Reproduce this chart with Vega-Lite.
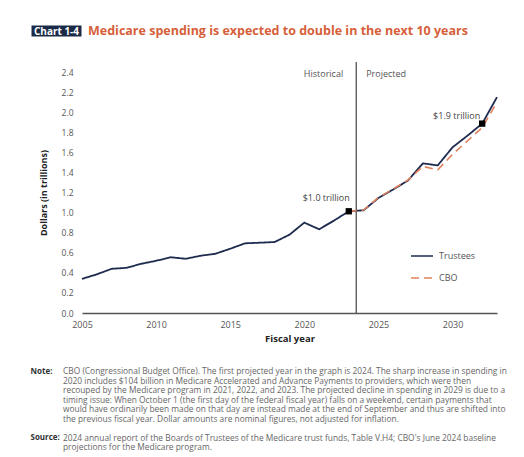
{
  "$schema": "https://vega.github.io/schema/vega-lite/v6.json",
  "background": "white",
  "padding": {"left": 30, "top": 24, "right": 0, "bottom": 0},
  "spacing": 24,
  "config": {"view": {"stroke": null}, "font": "Open Sans", "axis": {"labelOverlap": false, "labelFlush": false, "labelSeparation": 0}},
  "datasets": {
    "spending": [
      {"year": 2005, "value": 0.34, "series": "Trustees"},
      {"year": 2006, "value": 0.385, "series": "Trustees"},
      {"year": 2007, "value": 0.44, "series": "Trustees"},
      {"year": 2008, "value": 0.45, "series": "Trustees"},
      {"year": 2009, "value": 0.49, "series": "Trustees"},
      {"year": 2010, "value": 0.52, "series": "Trustees"},
      {"year": 2011, "value": 0.555, "series": "Trustees"},
      {"year": 2012, "value": 0.54, "series": "Trustees"},
      {"year": 2013, "value": 0.57, "series": "Trustees"},
      {"year": 2014, "value": 0.59, "series": "Trustees"},
      {"year": 2015, "value": 0.64, "series": "Trustees"},
      {"year": 2016, "value": 0.694, "series": "Trustees"},
      {"year": 2017, "value": 0.7, "series": "Trustees"},
      {"year": 2018, "value": 0.707, "series": "Trustees"},
      {"year": 2019, "value": 0.78, "series": "Trustees"},
      {"year": 2020, "value": 0.9, "series": "Trustees"},
      {"year": 2021, "value": 0.834, "series": "Trustees"},
      {"year": 2022, "value": 0.92, "series": "Trustees"},
      {"year": 2023, "value": 1.013, "series": "Trustees"},
      {"year": 2024, "value": 1.023, "series": "Trustees"},
      {"year": 2025, "value": 1.145, "series": "Trustees"},
      {"year": 2026, "value": 1.23, "series": "Trustees"},
      {"year": 2027, "value": 1.32, "series": "Trustees"},
      {"year": 2028, "value": 1.49, "series": "Trustees"},
      {"year": 2029, "value": 1.47, "series": "Trustees"},
      {"year": 2030, "value": 1.65, "series": "Trustees"},
      {"year": 2031, "value": 1.765, "series": "Trustees"},
      {"year": 2032, "value": 1.886, "series": "Trustees"},
      {"year": 2033, "value": 2.15, "series": "Trustees"},
      {"year": 2023, "value": 1.013, "series": "CBO"},
      {"year": 2024, "value": 1.025, "series": "CBO"},
      {"year": 2025, "value": 1.15, "series": "CBO"},
      {"year": 2026, "value": 1.235, "series": "CBO"},
      {"year": 2027, "value": 1.325, "series": "CBO"},
      {"year": 2028, "value": 1.46, "series": "CBO"},
      {"year": 2029, "value": 1.425, "series": "CBO"},
      {"year": 2030, "value": 1.58, "series": "CBO"},
      {"year": 2031, "value": 1.713, "series": "CBO"},
      {"year": 2032, "value": 1.846, "series": "CBO"},
      {"year": 2033, "value": 2.1, "series": "CBO"}
    ],
    "points": [
      {"year": 2023, "value": 1.013, "label": "$1.0 trillion"},
      {"year": 2032, "value": 1.886, "label": "$1.9 trillion"}
    ],
    "divider": [
      {"year": 2023.5, "lo": 0, "hi": 2.5}
    ],
    "notes": [
      {"line": 0, "text": "CBO (Congressional Budget Office). The first projected year in the graph is 2024. The sharp increase in spending in"},
      {"line": 1, "text": "2020 includes $104 billion in Medicare Accelerated and Advance Payments to providers, which were then"},
      {"line": 2, "text": "recouped by the Medicare program in 2021, 2022, and 2023. The projected decline in spending in 2029 is due to a"},
      {"line": 3, "text": "timing issue: When October 1 (the first day of the federal fiscal year) falls on a weekend, certain payments that"},
      {"line": 4, "text": "would have ordinarily been made on that day are instead made at the end of September and thus are shifted into"},
      {"line": 5, "text": "the previous fiscal year. Dollar amounts are nominal figures, not adjusted for inflation."},
      {"line": 7, "text": "2024 annual report of the Boards of Trustees of the Medicare trust funds, Table V.H4; CBO's June 2024 baseline"},
      {"line": 8, "text": "projections for the Medicare program."}
    ]
  },
  "vconcat": [
    {
      "width": 415,
      "height": 11,
      "data": {"values": [{"title": "Medicare spending is expected to double in the next 10 years"}]},
      "mark": {"type": "text", "color": "#d65f3a", "fontWeight": "bold", "fontSize": 12.5, "baseline": "middle", "align": "left", "dx": 6},
      "encoding": {
        "x": {"datum": 0, "type": "quantitative", "scale": {"domain": [0, 1]}, "axis": null},
        "y": {"datum": 0.5, "type": "quantitative", "scale": {"domain": [0, 1]},
          "axis": {"labels": false, "ticks": false, "grid": false, "domain": true, "domainColor": "#1b2a47", "domainWidth": 50,
            "domainCap": "butt", "offset": 26, "title": "Chart 1-4", "titleAngle": 0, "titleX": 0, "titleY": 6,
            "titleAlign": "center", "titleBaseline": "middle", "titleColor": "white", "titleFontSize": 10, "titleFontWeight": "bold"}},
        "text": {"field": "title"}
      }
    },
    {
      "width": 415,
      "height": 241,
      "layer": [
        {
          "data": {"name": "divider"},
          "mark": {"type": "rule", "color": "#333333", "strokeWidth": 1.1, "clip": false},
          "encoding": {
            "x": {"field": "year", "type": "quantitative", "scale": {"domain": [2005, 2033], "nice": false, "zero": false},
              "axis": {"values": [2005, 2010, 2015, 2020, 2025, 2030], "format": "d", "ticks": false, "grid": false,
                "domainColor": "#555555", "domainWidth": 1.6, "labelPadding": 7, "labelFontSize": 9, "labelColor": "#555555",
                "title": "Fiscal year", "titleFontSize": 9.5, "titleFontWeight": "bold", "titleColor": "#222222", "titlePadding": 4}},
            "y": {"field": "lo", "type": "quantitative", "scale": {"domain": [0, 2.4], "nice": false},
              "axis": {"tickCount": 12, "format": ".1f",
                "ticks": false, "domain": false, "grid": false, "labelPadding": 9, "labelFontSize": 8.5, "labelColor": "#555555",
                "title": "Dollars (in trillions)", "titleFontSize": 9, "titleFontWeight": "bold", "titleColor": "#222222", "titlePadding": 13}},
            "y2": {"field": "hi"}
          }
        },
        {
          "data": {"name": "spending"},
          "transform": [{"filter": "datum.series === 'Trustees'"}],
          "mark": {"type": "line", "strokeWidth": 1.8},
          "encoding": {
            "x": {"field": "year", "type": "quantitative"},
            "y": {"field": "value", "type": "quantitative"},
            "color": {"field": "series", "type": "nominal", "scale": {"domain": ["Trustees", "CBO"], "range": ["#1d2b4e", "#e0825e"]},
              "legend": {"title": null, "orient": "none", "legendX": 328, "legendY": 219, "padding": 0, "symbolType": "stroke",
                "symbolSize": 484, "symbolStrokeWidth": 1.6, "labelFontSize": 9, "labelColor": "#555555", "labelOffset": 5, "rowPadding": 5}},
            "strokeDash": {"field": "series", "type": "nominal", "scale": {"domain": ["Trustees", "CBO"], "range": [[1, 0], [8, 5]]}}
          }
        },
        {
          "data": {"name": "spending"},
          "transform": [{"filter": "datum.series === 'CBO'"}],
          "mark": {"type": "line", "strokeWidth": 1.6},
          "encoding": {
            "x": {"field": "year", "type": "quantitative"},
            "y": {"field": "value", "type": "quantitative"},
            "color": {"field": "series", "type": "nominal"},
            "strokeDash": {"field": "series", "type": "nominal"}
          }
        },
        {
          "data": {"name": "points"},
          "mark": {"type": "square", "color": "black", "opacity": 1, "size": 40},
          "encoding": {
            "x": {"field": "year", "type": "quantitative"},
            "y": {"field": "value", "type": "quantitative"}
          }
        },
        {
          "data": {"name": "points"},
          "transform": [{"filter": "datum.year === 2023"}],
          "mark": {"type": "text", "align": "right", "baseline": "middle", "dx": 1, "dy": -13, "fontSize": 9, "color": "#444444"},
          "encoding": {
            "x": {"field": "year", "type": "quantitative"},
            "y": {"field": "value", "type": "quantitative"},
            "text": {"field": "label"}
          }
        },
        {
          "data": {"name": "points"},
          "transform": [{"filter": "datum.year === 2032"}],
          "mark": {"type": "text", "align": "right", "baseline": "middle", "dx": -2, "dy": -8, "fontSize": 9, "color": "#444444"},
          "encoding": {
            "x": {"field": "year", "type": "quantitative"},
            "y": {"field": "value", "type": "quantitative"},
            "text": {"field": "label"}
          }
        },
        {
          "data": {"values": [{"label": "Historical"}]},
          "mark": {"type": "text", "align": "right", "baseline": "middle", "dx": -13, "fontSize": 9, "color": "#555555"},
          "encoding": {
            "x": {"datum": 2023.5, "type": "quantitative"},
            "y": {"datum": 2.377, "type": "quantitative"},
            "text": {"field": "label"}
          }
        },
        {
          "data": {"values": [{"label": "Projected"}]},
          "mark": {"type": "text", "align": "left", "baseline": "middle", "dx": 10, "fontSize": 9, "color": "#555555"},
          "encoding": {
            "x": {"datum": 2023.5, "type": "quantitative"},
            "y": {"datum": 2.377, "type": "quantitative"},
            "text": {"field": "label"}
          }
        }
      ]
    },
    {
      "width": 445,
      "height": 76,
      "data": {"name": "notes"},
      "mark": {"type": "text", "align": "left", "baseline": "middle", "fontSize": 8.4, "color": "#666666", "dx": -19},
      "encoding": {
        "x": {"datum": 0, "type": "quantitative", "scale": {"domain": [0, 1]}, "axis": null},
        "y": {"field": "line", "type": "quantitative", "scale": {"domain": [0, 8], "reverse": true, "nice": false},
          "axis": {"values": [0, 7], "labelExpr": "datum.value === 0 ? 'Note:' : 'Source:'", "labelAlign": "left",
            "labelBaseline": "middle", "labelPadding": 52, "ticks": false, "tickSize": 0, "domain": false, "grid": false,
            "labelFontWeight": "bold", "labelFontSize": 8, "labelColor": "#333333", "title": null}},
        "text": {"field": "text"}
      }
    }
  ]
}
